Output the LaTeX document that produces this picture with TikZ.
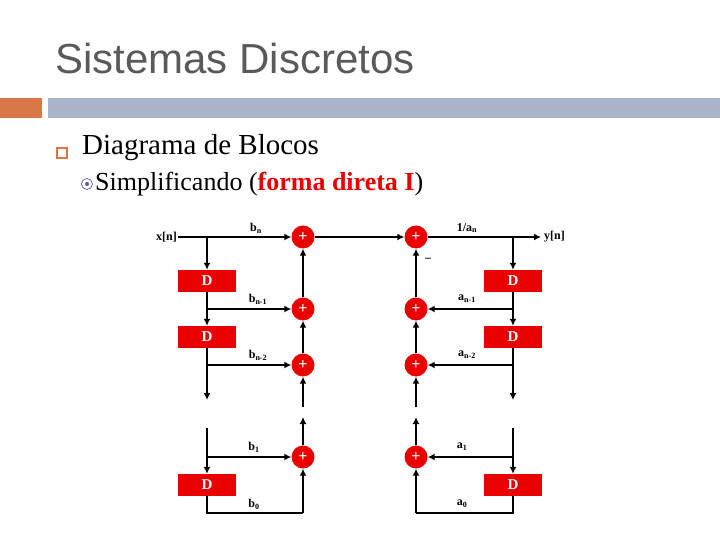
\documentclass[tikz,border=0pt]{standalone}
\usepackage{fontspec}
\setmainfont{Liberation Serif}
\newfontfamily\titlefont{Liberation Sans}
\usetikzlibrary{arrows.meta}
\definecolor{dred}{RGB}{235,0,0}
\definecolor{ttl}{RGB}{90,90,90}
\definecolor{org}{RGB}{215,120,70}
\definecolor{bar}{RGB}{170,180,200}
\begin{document}
\begin{tikzpicture}[x=1pt,y=-1pt,
  sig/.style={line width=2.6pt,-{Latex[length=7pt,width=7pt]}},
  ln/.style={line width=2.6pt},
  dbox/.style={fill=dred,minimum width=58pt,minimum height=22pt,inner sep=0,text=white,font=\bfseries\fontsize{15}{15}\selectfont},
  add/.style={circle,fill=dred,minimum size=23pt,inner sep=0,text=white,font=\bfseries\fontsize{16}{16}\selectfont},
  lbl/.style={font=\bfseries\fontsize{12}{12}\selectfont,inner sep=1pt}]
\useasboundingbox (0,0) rectangle (720,540);
\node[anchor=west,text=ttl,font=\titlefont\fontsize{42}{42}\selectfont,inner sep=0] (title) at (55,58) {Sistemas Discretos};
\fill[org] (0,98) rectangle (42,118);
\fill[bar] (48,98) rectangle (720,118);
\draw[org,line width=1.2pt] (57,148) rectangle (67,158);
\node[anchor=west,font=\fontsize{29}{29}\selectfont,inner sep=0] (l1) at (82,148) {Diagrama de Blocos};
\draw[gray!70!blue,line width=0.7pt] (87,184) circle (5.5);
\fill[gray!70!blue] (87,184) circle (2);
\node[anchor=west,font=\fontsize{26}{26}\selectfont,inner sep=0] (l2) at (95,184) {Simplificando (\textcolor{dred}{\textbf{forma direta I}})};

% nodes
\node[lbl,anchor=east] (x) at (178,237) {x[n]};
\node[lbl,anchor=west] (y) at (543,237) {y[n]};
\coordinate (yend) at (541,237);
\foreach \n/\yy in {1/237,2/309,3/365,4/457}{
  \node[add] (L\n) at (303,\yy) {+};
  \node[add] (R\n) at (416,\yy) {+};
}
\node[dbox] (DL1) at (207,281) {D};
\node[dbox] (DL2) at (207,337) {D};
\node[dbox] (DL3) at (207,485) {D};
\node[dbox] (DR1) at (513,281) {D};
\node[dbox] (DR2) at (513,337) {D};
\node[dbox] (DR3) at (513,485) {D};
\coordinate (tl1) at (207,237); \coordinate (tr1) at (513,237);
\coordinate (tl2) at (207,309); \coordinate (tr2) at (513,309);
\coordinate (tl3) at (207,365); \coordinate (tr3) at (513,365);
\coordinate (tl4) at (207,457); \coordinate (tr4) at (513,457);
\coordinate (gl1) at (207,400); \coordinate (gl2) at (207,428);
\coordinate (gr1) at (513,400); \coordinate (gr2) at (513,428);
\coordinate (bl) at (207,513); \coordinate (br) at (513,513);
\coordinate (bl2) at (303,513); \coordinate (br2) at (416,513);
\coordinate (cl1) at (303,417); \coordinate (cl2) at (303,407);
\coordinate (cr1) at (416,417); \coordinate (cr2) at (416,407);

% forward path
\draw[sig] (x.east) -- (L1);
\draw[sig] (L1) -- (R1);
\draw[sig] (R1) -- (yend);
\draw[sig] (tl1) -- (DL1);
\draw[sig] (DL1) -- (DL2);
\draw[sig] (DL2) -- (gl1);
\draw[sig] (gl2) -- (DL3);
\draw[ln] (DL3.south) -- (bl) -- (bl2);
\draw[sig] (bl2) -- (L4);
\draw[sig] (tl2) -- (L2);
\draw[sig] (tl3) -- (L3);
\draw[sig] (tl4) -- (L4);
\draw[sig] (L2) -- (L1);
\draw[sig] (L3) -- (L2);
\draw[sig] (L4) -- (cl1);
\draw[sig] (cl2) -- (L3);
% feedback path
\draw[sig] (tr1) -- (DR1);
\draw[sig] (DR1) -- (DR2);
\draw[sig] (DR2) -- (gr1);
\draw[sig] (gr2) -- (DR3);
\draw[ln] (DR3.south) -- (br) -- (br2);
\draw[sig] (br2) -- (R4);
\draw[sig] (tr2) -- (R2);
\draw[sig] (tr3) -- (R3);
\draw[sig] (tr4) -- (R4);
\draw[sig] (R2) -- (R1);
\draw[sig] (R3) -- (R2);
\draw[sig] (R4) -- (cr1);
\draw[sig] (cr2) -- (R3);

% labels
\node[lbl] (lb1) at (256,228) {b\textsubscript{n}};
\node[lbl] (lb2) at (258,299) {b\textsubscript{n-1}};
\node[lbl] (lb3) at (258,355) {b\textsubscript{n-2}};
\node[lbl] (lb4) at (254,447) {b\textsubscript{1}};
\node[lbl] (lb5) at (254,504) {b\textsubscript{0}};
\node[lbl] (la1) at (467,228) {1/a\textsubscript{n}};
\node[lbl] (la2) at (467,299) {a\textsubscript{n-1}};
\node[lbl] (la3) at (467,355) {a\textsubscript{n-2}};
\node[lbl] (la4) at (462,447) {a\textsubscript{1}};
\node[lbl] (la5) at (462,504) {a\textsubscript{0}};
\node[lbl] (minus) at (428,260) {--};
\end{tikzpicture}
\end{document}
